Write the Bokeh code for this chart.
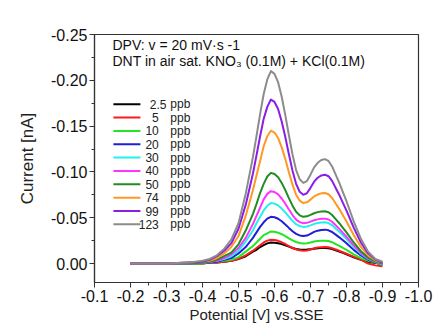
from bokeh.plotting import figure
from bokeh.models import Range1d, FixedTicker, PrintfTickFormatter, Label, ColumnDataSource
from bokeh.core.properties import value
from bokeh.embed import file_html
from bokeh.resources import INLINE

# ---- data ----
potential = [-0.20, -0.30, -0.36, -0.40, -0.42, -0.44, -0.46, -0.48, -0.50, -0.52,
             -0.54, -0.55, -0.56, -0.57, -0.58, -0.59, -0.60, -0.61, -0.62, -0.63,
             -0.64, -0.65, -0.66, -0.67, -0.68, -0.69, -0.70, -0.71, -0.72, -0.73,
             -0.74, -0.75, -0.76, -0.77, -0.78, -0.79, -0.80, -0.82, -0.84, -0.86,
             -0.88, -0.90]

concentrations = ["2.5", "5", "10", "20", "30", "40", "50", "74", "99", "123"]
colors = ["#000000", "#ff1a1a", "#22e622", "#1f1fd6", "#22f0f0", "#ff33ff",
          "#228b22", "#ff9922", "#8a1ee6", "#8c8c8c"]

i_2_5 = [0, 0, 0, 0, -0.001, -0.001, -0.002, -0.003, -0.005, -0.008,
         -0.013, -0.015, -0.018, -0.020, -0.022, -0.023, -0.0228, -0.0222, -0.0212, -0.0199,
         -0.0184, -0.0170, -0.0159, -0.0153, -0.0150, -0.0152, -0.0157, -0.0162, -0.0168, -0.0169,
         -0.0170, -0.0167, -0.0158, -0.0145, -0.0131, -0.0116, -0.0101, -0.0069, -0.0040, -0.0019,
         -0.0007, 0.001]
i_5 = [0, 0, 0, 0, -0.001, -0.001, -0.002, -0.003, -0.005, -0.009,
       -0.014, -0.017, -0.020, -0.023, -0.025, -0.026, -0.0257, -0.0248, -0.0232, -0.0213,
       -0.0191, -0.0170, -0.0154, -0.0144, -0.0140, -0.0143, -0.0154, -0.0166, -0.0174, -0.0178,
       -0.0180, -0.0177, -0.0167, -0.0153, -0.0139, -0.0123, -0.0107, -0.0073, -0.0043, 0.000,
       0.002, 0.003]
i_10 = [0, 0, 0, 0, -0.001, -0.002, -0.003, -0.004, -0.007, -0.013,
        -0.019, -0.023, -0.027, -0.031, -0.033, -0.035, -0.0347, -0.0337, -0.0320, -0.0299,
        -0.0275, -0.0253, -0.0235, -0.0224, -0.0220, -0.0222, -0.0230, -0.0240, -0.0245, -0.0249,
        -0.0250, -0.0246, -0.0233, -0.0213, -0.0193, -0.0171, -0.0149, -0.0101, -0.0059, -0.0029,
        -0.0011, 0.001]
i_20 = [0, 0, 0, -0.001, -0.001, -0.002, -0.004, -0.006, -0.011, -0.018,
        -0.028, -0.034, -0.040, -0.045, -0.049, -0.051, -0.0505, -0.0489, -0.0462, -0.0427,
        -0.0389, -0.0353, -0.0324, -0.0307, -0.0300, -0.0305, -0.0324, -0.0346, -0.0359, -0.0367,
        -0.0370, -0.0363, -0.0344, -0.0315, -0.0286, -0.0253, -0.0221, -0.0149, -0.0088, -0.0042,
        -0.0016, 0.001]
i_30 = [0, 0, 0, -0.001, -0.002, -0.003, -0.005, -0.008, -0.014, -0.024,
        -0.036, -0.044, -0.051, -0.058, -0.063, -0.066, -0.0654, -0.0634, -0.0600, -0.0558,
        -0.0511, -0.0466, -0.0430, -0.0409, -0.0400, -0.0404, -0.0417, -0.0433, -0.0442, -0.0448,
        -0.0450, -0.0442, -0.0419, -0.0383, -0.0347, -0.0308, -0.0268, -0.0182, -0.0107, -0.0051,
        -0.0020, 0.001]
i_40 = [0, 0, 0, -0.001, -0.002, -0.003, -0.006, -0.010, -0.017, -0.028,
        -0.043, -0.052, -0.061, -0.070, -0.076, -0.079, -0.0781, -0.0755, -0.0710, -0.0652,
        -0.0589, -0.0529, -0.0480, -0.0452, -0.0440, -0.0444, -0.0457, -0.0473, -0.0482, -0.0488,
        -0.0490, -0.0481, -0.0456, -0.0417, -0.0378, -0.0335, -0.0292, -0.0198, -0.0116, -0.0056,
        -0.0022, 0.000]
i_50 = [0, 0, 0, -0.001, -0.002, -0.004, -0.008, -0.012, -0.021, -0.036,
        -0.054, -0.065, -0.077, -0.087, -0.095, -0.099, -0.0978, -0.0942, -0.0880, -0.0801,
        -0.0714, -0.0632, -0.0565, -0.0526, -0.0510, -0.0515, -0.0531, -0.0549, -0.0561, -0.0568,
        -0.0570, -0.0560, -0.0530, -0.0485, -0.0440, -0.0390, -0.0340, -0.0230, -0.0135, -0.0065,
        -0.0025, 0.000]
i_74 = [0, 0, -0.001, -0.002, -0.003, -0.006, -0.011, -0.018, -0.030, -0.052,
        -0.080, -0.096, -0.112, -0.128, -0.139, -0.145, -0.1430, -0.1371, -0.1268, -0.1140,
        -0.0997, -0.0861, -0.0751, -0.0686, -0.0660, -0.0668, -0.0698, -0.0732, -0.0753, -0.0766,
        -0.0770, -0.0756, -0.0716, -0.0655, -0.0594, -0.0527, -0.0459, -0.0311, -0.0182, -0.0088,
        -0.0034, -0.001]
i_99 = [0, 0, -0.001, -0.002, -0.004, -0.008, -0.014, -0.022, -0.038, -0.064,
        -0.098, -0.118, -0.139, -0.158, -0.171, -0.179, -0.1764, -0.1686, -0.1550, -0.1381,
        -0.1193, -0.1014, -0.0870, -0.0784, -0.0750, -0.0767, -0.0826, -0.0894, -0.0936, -0.0962,
        -0.0970, -0.0953, -0.0902, -0.0825, -0.0749, -0.0663, -0.0578, -0.0392, -0.0230, -0.0111,
        -0.0043, -0.001]
i_123 = [0, 0, -0.001, -0.003, -0.005, -0.009, -0.016, -0.026, -0.044, -0.076,
         -0.116, -0.139, -0.163, -0.185, -0.201, -0.210, -0.207, -0.198, -0.182, -0.162,
         -0.140, -0.119, -0.102, -0.092, -0.088, -0.090, -0.097, -0.105, -0.110, -0.113,
         -0.114, -0.112, -0.106, -0.097, -0.088, -0.078, -0.068, -0.046, -0.027, -0.013,
         -0.005, -0.002]

series = [i_2_5, i_5, i_10, i_20, i_30, i_40, i_50, i_74, i_99, i_123]

x_ticks = [-0.1, -0.2, -0.3, -0.4, -0.5, -0.6, -0.7, -0.8, -0.9, -1.0]
y_ticks = [-0.25, -0.20, -0.15, -0.10, -0.05, 0.00]

FONT = "Liberation Sans"

p = figure(width=435, height=325,
           x_range=Range1d(-0.1, -1.0), y_range=Range1d(0.0207, -0.25),
           output_backend="svg", toolbar_location=None,
           min_border_left=94, min_border_right=17, min_border_top=34, min_border_bottom=42)
p.grid.visible = False
p.outline_line_color = "#333333"
p.outline_line_width = 1.2
p.background_fill_color = "white"
p.border_fill_color = "white"

for ys, c in zip(series, colors):
    p.line(potential, ys, line_color=c, line_width=2, line_join="round")

# axes
xa = p.xaxis[0]
xa.ticker = FixedTicker(ticks=x_ticks,
                        minor_ticks=[t - 0.05 for t in x_ticks[1:]])
xa.formatter = PrintfTickFormatter(format="%.1f")
xa.axis_label = "Potential [V] vs.SSE"
ya = p.yaxis[0]
ya.ticker = FixedTicker(ticks=y_ticks,
                        minor_ticks=[t + 0.025 for t in y_ticks[:-1]])
ya.formatter = PrintfTickFormatter(format="%.2f")
ya.axis_label = "Current [nA]"

for ax in (xa, ya):
    ax.axis_line_color = "#333333"
    ax.axis_line_width = 1.2
    ax.major_tick_line_color = "#333333"
    ax.minor_tick_line_color = "#333333"
    ax.major_tick_out = 5
    ax.major_tick_in = 0
    ax.minor_tick_out = 3
    ax.minor_tick_in = 0
    ax.major_label_text_font = FONT
    ax.major_label_text_font_size = "16px"
    ax.major_label_text_color = "#111111"
    ax.axis_label_text_font = FONT
    ax.axis_label_text_font_style = "normal"
    ax.axis_label_text_color = "#222222"
    ax.major_label_standoff = 2
xa.axis_label_text_font_size = "15px"
xa.axis_label_standoff = 1
ya.axis_label_text_font_size = "17px"
ya.axis_label_standoff = 11

# annotation texts
p.add_layout(Label(x=-0.15, y=-0.239, text="DPV: v = 20 mV\u00b7s -1",
                   text_font=FONT, text_font_size="14px", text_color="#111111",
                   text_baseline="middle", text_align="left"))
p.add_layout(Label(x=-0.15, y=-0.2207, text="DNT in air sat. KNO\u2083 (0.1M) + KCl(0.1M)",
                   text_font=FONT, text_font_size="14px", text_color="#111111",
                   text_baseline="middle", text_align="left"))

# legend (layout positions)
LEG_Y0 = -0.1739
LEG_DY = 0.01457
leg_y = [LEG_Y0 + k * LEG_DY for k in range(len(concentrations))]
num_x = [-0.300] + [-0.2785] * (len(concentrations) - 1)
leg_src = ColumnDataSource(dict(
    y=leg_y, color=colors, num=concentrations, nx=num_x,
    unit=["ppb"] * len(concentrations)))
p.segment(x0=-0.1525, x1=-0.2275, y0="y", y1="y", line_color="color",
          line_width=2, source=leg_src)
p.text(x="nx", y="y", text="num", source=leg_src, text_align="right",
       text_baseline="middle", text_font=value(FONT), text_font_size="12px",
       text_color="#222222")
p.text(x=-0.3105, y="y", text="unit", source=leg_src, text_align="left",
       text_baseline="middle", text_font=value(FONT), text_font_size="12px",
       text_color="#222222")

open("out.html", "w").write(file_html(p, INLINE))
